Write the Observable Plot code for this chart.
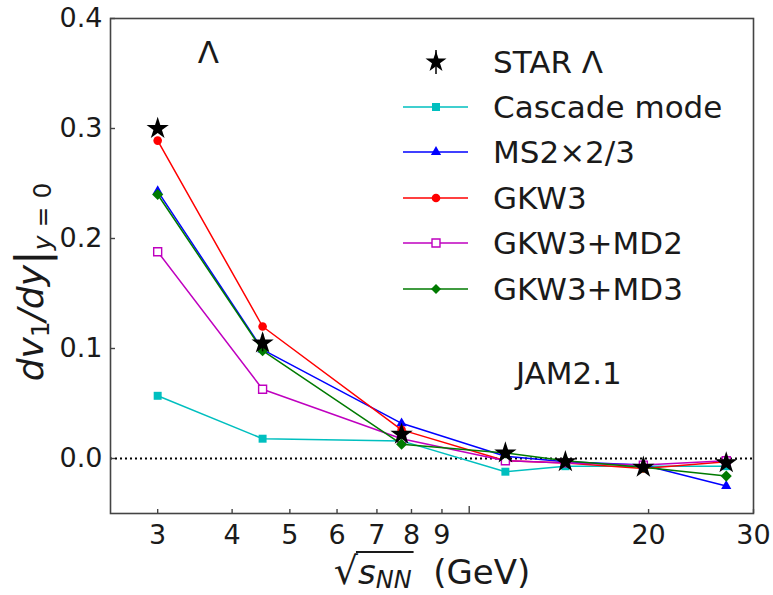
<!DOCTYPE html>
<html><head><meta charset="utf-8">
<script src="https://cdn.jsdelivr.net/npm/d3@7"></script>
<script src="https://cdn.jsdelivr.net/npm/@observablehq/plot@0.6"></script>
<style>body{margin:0;background:#fff} svg{display:block}</style>
</head><body><div id="chart"></div>
<script>
const energies = [3.0, 4.5, 7.7, 11.5, 14.5, 19.6, 27.0];
const starValues = [0.300, 0.105, 0.022, 0.005, -0.003, -0.008, -0.004];
const starErrors = [0.004, 0.008, 0.004, 0.003, 0.003, 0.003, 0.003];
const cascadeValues = [0.057, 0.018, 0.016, -0.012, -0.007, -0.007, -0.007];
const ms2Values = [0.243, 0.099, 0.032, 0.002, -0.003, -0.006, -0.025];
const gkw3Values = [0.289, 0.120, 0.026, -0.002, -0.004, -0.009, -0.003];
const gkw3md2Values = [0.188, 0.063, 0.018, -0.002, -0.004, -0.006, -0.002];
const gkw3md3Values = [0.240, 0.098, 0.013, 0.005, -0.002, -0.008, -0.016];

const seriesNames = ["Cascade mode", "MS2×2/3", "GKW3", "GKW3+MD2", "GKW3+MD3"];
const seriesValues = [cascadeValues, ms2Values, gkw3Values, gkw3md2Values, gkw3md3Values];
const seriesColors = ["#00bfbf", "#0000ff", "#ff0000", "#bf00bf", "#007a00"];
const seriesSymbols = ["square", "triangle", "circle", "square", "diamond2"];
const seriesRadius = [4.5, 3.8, 4.3, 4.5, 5.0];
const seriesFilled = [true, true, true, false, true];
const starName = "STAR Λ";

const xTickLabels = [3, 4, 5, 6, 7, 8, 9, 20, 30];
const xMajorTicks = [10];
const yTickLabels = [0.0, 0.1, 0.2, 0.3, 0.4];
const annotations = [
  {label: "Λ", x: 3.65, y: 0.369},
  {label: "JAM2.1", x: 14.7, y: 0.077}
];

const W = 773, H = 595;
const ink = "#1a1a1a";
const axisColor = "#444";

const starRows = energies.map((e, i) => ({energy: e, value: starValues[i], err: starErrors[i]}));

const marks = [
  Plot.ruleY([0], {stroke: "black", strokeWidth: 2, strokeDasharray: "2,3"}),
];
seriesNames.forEach((name, k) => {
  const rows = energies.map((e, i) => ({energy: e, value: seriesValues[k][i]}));
  marks.push(Plot.line(rows, {x: "energy", y: "value", stroke: seriesColors[k], strokeWidth: 1.5}));
  marks.push(Plot.dot(rows, {
    x: "energy", y: "value", symbol: () => seriesSymbols[k], r: seriesRadius[k],
    fill: seriesFilled[k] ? seriesColors[k] : "white",
    stroke: seriesColors[k], strokeWidth: seriesFilled[k] ? 0 : 1.4
  }));
});
marks.push(
  Plot.ruleX(starRows, {x: "energy", y1: d => d.value - d.err, y2: d => d.value + d.err, stroke: "black", strokeWidth: 1.5}),
  Plot.dot(starRows, {x: "energy", y: "value", symbol: () => "star", r: 7, fill: "black", stroke: "none"}),
  Plot.text(annotations, {x: "x", y: "y", text: "label", fontSize: 31, fill: ink}),
  Plot.frame({stroke: axisColor, strokeWidth: 1.6}),
  Plot.axisX({ticks: xTickLabels, tickSize: 4, dy: -4, tickFormat: () => "", stroke: axisColor, strokeWidth: 1.4, label: null}),
  Plot.axisX({ticks: xMajorTicks, tickSize: 7, dy: -7, tickFormat: () => "", stroke: axisColor, strokeWidth: 1.4, label: null}),
  Plot.axisX({ticks: xTickLabels, tickSize: 0, tickPadding: 11, tickFormat: d => String(d), fontSize: 27, fill: ink, label: null}),
  Plot.axisY({ticks: yTickLabels, tickSize: 5, dx: 5, tickFormat: () => "", stroke: axisColor, strokeWidth: 1.4, label: null}),
  Plot.axisY({ticks: yTickLabels, tickSize: 0, tickPadding: 8, tickFormat: d3.format(".1f"), fontSize: 27, fill: ink, label: null})
);

const plot = Plot.plot({
  width: W, height: H,
  marginLeft: 110, marginRight: 20, marginTop: 18, marginBottom: 82,
  style: {fontFamily: "DejaVu Sans", background: "white"},
  x: {type: "log", domain: [2.5, 30], label: null},
  y: {domain: [-0.05, 0.4], label: null},
  marks
});
document.getElementById("chart").appendChild(plot);

const svg = d3.select(plot);

// Y axis label
const yl = svg.append("text")
  .attr("transform", "translate(43,282) rotate(-90)")
  .attr("text-anchor", "middle").attr("font-size", 36).attr("fill", ink)
  .attr("font-family", "DejaVu Sans");
yl.append("tspan").attr("font-style", "italic").text("dv");
yl.append("tspan").attr("font-size", 25).attr("dy", 6).text("1");
yl.append("tspan").attr("dy", -6).attr("font-style", "italic").text("/dy");
yl.append("tspan").attr("font-size", 44).attr("dy", 4).text("|");
yl.append("tspan").attr("font-size", 25).attr("dy", 4).attr("font-style", "italic").text("y");
yl.append("tspan").attr("font-size", 25).text(" = 0");

// X axis label
const xl = svg.append("text")
  .attr("x", 432).attr("y", 584)
  .attr("text-anchor", "middle").attr("font-size", 34).attr("fill", ink)
  .attr("font-family", "DejaVu Sans");
xl.append("tspan").attr("font-size", 38).text("√");
xl.append("tspan").attr("font-style", "italic").text("s");
xl.append("tspan").attr("font-style", "italic").attr("font-size", 24).attr("dy", 4).text("NN");
xl.append("tspan").attr("dy", -4).text("  (GeV)");
const xnode = xl.node();
const ovStart = xnode.getEndPositionOfChar(0).x - 2;
const ovEnd = xnode.getEndPositionOfChar(3).x + 2;
svg.append("line").attr("x1", ovStart).attr("x2", ovEnd).attr("y1", 552).attr("y2", 552)
  .attr("stroke", ink).attr("stroke-width", 1.8);

// Legend
const symMap = {square: d3.symbolSquare, triangle: d3.symbolTriangle, circle: d3.symbolCircle, diamond2: d3.symbolDiamond2, star: d3.symbolStar};
const lg = svg.append("g").attr("font-family", "DejaVu Sans").attr("font-size", 31)
  .attr("fill", ink).attr("text-anchor", "start");
const rowY = [62, 107, 152, 198, 243, 289];
const lineX1 = 403, lineX2 = 468, markX = 436, textX = 493;
// STAR row
lg.append("line").attr("x1", markX).attr("x2", markX).attr("y1", rowY[0] - 12).attr("y2", rowY[0] + 12)
  .attr("stroke", "black").attr("stroke-width", 1.5);
lg.append("path").attr("transform", `translate(${markX},${rowY[0]})`)
  .attr("d", d3.symbol(symMap.star, Math.PI * 6.6 * 6.6)()).attr("fill", "black");
lg.append("text").attr("x", textX).attr("y", rowY[0]).attr("dy", "0.36em").text(starName);
seriesNames.forEach((name, k) => {
  const y = rowY[k + 1];
  lg.append("line").attr("x1", lineX1).attr("x2", lineX2).attr("y1", y).attr("y2", y)
    .attr("stroke", seriesColors[k]).attr("stroke-width", 1.5);
  const r = Math.min(seriesRadius[k], 4.5);
  lg.append("path").attr("transform", `translate(${markX},${y})`)
    .attr("d", d3.symbol(symMap[seriesSymbols[k]], Math.PI * r * r)())
    .attr("fill", seriesFilled[k] ? seriesColors[k] : "white")
    .attr("stroke", seriesFilled[k] ? "none" : seriesColors[k]).attr("stroke-width", 1.4);
  lg.append("text").attr("x", textX).attr("y", y).attr("dy", "0.36em").text(name);
});
</script>
</body></html>
